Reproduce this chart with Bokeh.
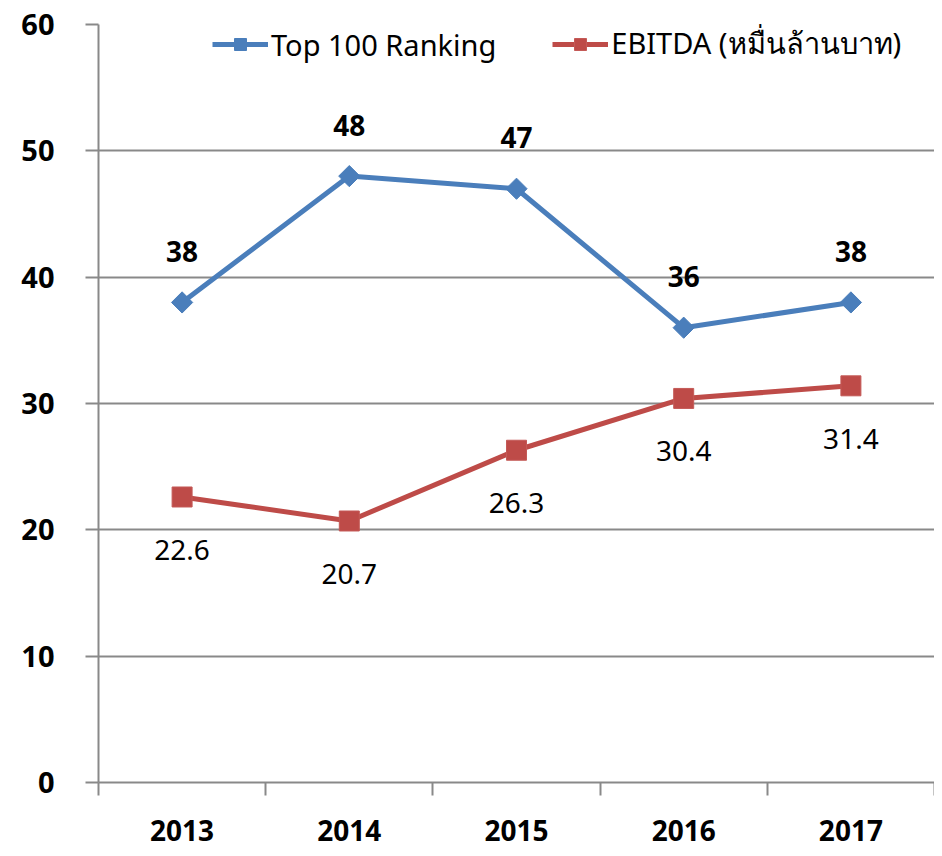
import math
from bokeh.plotting import figure
from bokeh.models import (ColumnDataSource, LabelSet, Range1d, FixedTicker,
                          Legend, LegendItem)
from bokeh.core.properties import value
from bokeh.embed import file_html
from bokeh.resources import INLINE

years = ["2013", "2014", "2015", "2016", "2017"]
ranking = [38, 48, 47, 36, 38]
ebitda = [22.6, 20.7, 26.3, 30.4, 31.4]
y_ticks = [0, 10, 20, 30, 40, 50, 60]
series_names = ["Top 100 Ranking", "EBITDA (หมื่นล้านบาท)"]

BLUE = "#4A7EBB"
RED = "#BE4B48"
GRID = "#898989"
FONT = "Noto Sans"

xs = list(range(1, len(years) + 1))
src = ColumnDataSource(dict(
    x=xs, r=ranking, e=ebitda,
    rl=[str(v) for v in ranking], el=[str(v) for v in ebitda],
))

p = figure(width=934, height=848, output_backend="svg", toolbar_location=None,
           x_range=Range1d(0.5, len(years) + 0.5), y_range=Range1d(0, 60),
           min_border_left=98, min_border_right=0, min_border_top=24,
           min_border_bottom=66)
p.outline_line_color = None
p.background_fill_color = "white"
p.border_fill_color = "white"
p.xgrid.visible = False
p.ygrid.grid_line_color = GRID
p.ygrid.grid_line_width = 2

ya = p.yaxis[0]
ya.ticker = FixedTicker(ticks=y_ticks)
ya.axis_line_color = GRID
ya.axis_line_width = 2
ya.major_tick_out = 13
ya.major_tick_in = 0
ya.major_tick_line_color = GRID
ya.major_tick_line_width = 2
ya.minor_tick_line_color = None
ya.major_label_standoff = 31
ya.major_label_text_font = FONT
ya.major_label_text_font_size = "29px"
ya.major_label_text_font_style = "bold"
ya.major_label_text_color = "black"

xa = p.xaxis[0]
xa.ticker = FixedTicker(ticks=xs, minor_ticks=[i + 0.5 for i in range(len(years) + 1)])
xa.major_label_overrides = {i + 1: y for i, y in enumerate(years)}
xa.axis_line_color = GRID
xa.axis_line_width = 2
xa.major_tick_out = 0
xa.major_tick_in = 0
xa.major_tick_line_color = None
xa.minor_tick_out = 13
xa.minor_tick_in = 0
xa.minor_tick_line_color = GRID
xa.minor_tick_line_width = 2
xa.major_label_standoff = 24
xa.major_label_text_font = FONT
xa.major_label_text_font_size = "28px"
xa.major_label_text_font_style = "bold"
xa.major_label_text_color = "black"

l1 = p.line("x", "r", source=src, line_color=BLUE, line_width=5)
s1 = p.scatter("x", "r", source=src, marker="square", size=15, angle=math.pi / 4,
               fill_color=BLUE, line_color=BLUE)
l2 = p.line("x", "e", source=src, line_color=RED, line_width=5)
s2 = p.scatter("x", "e", source=src, marker="square", size=20,
               fill_color=RED, line_color="#C45A57")

lab1 = LabelSet(x="x", y="r", text="rl", source=src, y_offset=51,
                text_align="center", text_baseline="middle",
                text_font=value(FONT), text_font_size="28px", text_font_style="bold",
                text_color="black")
lab2 = LabelSet(x="x", y="e", text="el", source=src, y_offset=-53,
                text_align="center", text_baseline="middle",
                text_font=value(FONT), text_font_size="28px", text_color="black")
p.add_layout(lab1)
p.add_layout(lab2)

legend = Legend(items=[LegendItem(label=series_names[0], renderers=[l1, s1]),
                       LegendItem(label=series_names[1], renderers=[l2, s2])],
                orientation="horizontal", location=(114, 715),
                border_line_color=None, background_fill_alpha=0,
                label_text_font=FONT, label_text_font_size="29px",
                label_text_color="black",
                glyph_width=56, glyph_height=30, label_height=30,
                spacing=56, padding=0, margin=0, label_standoff=3)
p.add_layout(legend)

open("out.html", "w").write(file_html(p, INLINE))
